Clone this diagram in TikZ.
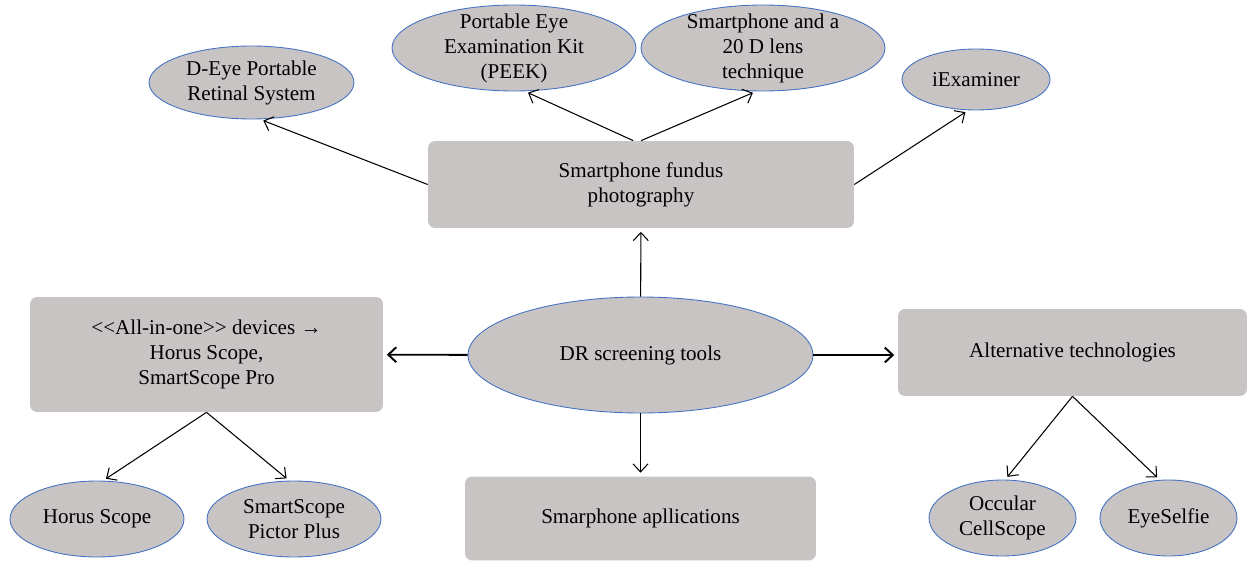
\documentclass[tikz,border=0pt]{standalone}
\usepackage{fontspec}
\setmainfont{Liberation Serif}
\usetikzlibrary{arrows.meta,shapes.geometric}

\definecolor{boxgray}{RGB}{200,196,195}
\definecolor{rimblue}{RGB}{68,114,196}

\begin{document}
\begin{tikzpicture}[x=0.02cm, y=-0.02cm, >={Straight Barb[length=1.6mm,width=3mm]}, shorten >=2pt,
    font=\fontsize{12}{14.2}\selectfont,
    tool/.style={ellipse, draw=rimblue, line width=0.5pt, fill=boxgray, inner xsep=0pt, inner ysep=-5pt, align=center},
    group/.style={rectangle, rounded corners=4pt, fill=boxgray, inner sep=0pt, align=center},
    link/.style={->, line width=0.6pt},
    mainlink/.style={->, line width=1.1pt}]
    \useasboundingbox (0,0) rectangle (1247,561);

    % Nodes {boxes}
    \node [group, minimum width=8.52cm, minimum height=1.74cm]	(fundus)	at (641,184.5)		{Smartphone fundus\\photography};
    \node [group, minimum width=7.06cm, minimum height=2.3cm]	(allinone)	at (206.5,354.5)	{{<}{<}All-in-one{>}{>} devices →\\Horus Scope,\\SmartScope Pro};
    \node [group, minimum width=6.98cm, minimum height=1.74cm]	(alt)		at (1072.5,352.5)	{Alternative technologies};
    \node [group, minimum width=7.02cm, minimum height=1.68cm]	(apps)		at (640.5,518.5)	{Smarphone apllications};

    % Nodes {ellipses}
    \node [tool, minimum width=6.9cm, minimum height=2.32cm]	(dr)		at (640.5,355)		{DR screening tools};
    \node [tool, minimum width=4.1cm, minimum height=1.46cm]	(deye)		at (251.5,82.5)		{D-Eye Portable\\Retinal System};
    \node [tool, minimum width=4.88cm, minimum height=1.72cm]	(peek)		at (514,48)			{Portable Eye\\Examination Kit\\(PEEK)};
    \node [tool, minimum width=4.88cm, minimum height=1.72cm]	(lens)		at (763,48)			{Smartphone and a\\20 D lens\\technique};
    \node [tool, minimum width=2.96cm, minimum height=1.22cm]	(iexam)		at (976,79.5)		{iExaminer};
    \node [tool, minimum width=3.48cm, minimum height=1.52cm]	(horus)		at (97,519)			{Horus Scope};
    \node [tool, minimum width=3.48cm, minimum height=1.52cm]	(pictor)	at (294,519)		{SmartScope\\Pictor Plus};
    \node [tool, minimum width=2.94cm, minimum height=1.52cm]	(cell)		at (1002.5,518)		{Occular\\CellScope};
    \node [tool, minimum width=2.74cm, minimum height=1.52cm]	(selfie)	at (1168.5,518)		{EyeSelfie};

    % Paths
    \path [link]		(dr)			edge	(fundus);
    \path [link]		(dr)			edge	(apps);
    \path [mainlink]	(dr)			edge	(allinone);
    \path [mainlink]	(dr.east)		edge	(alt.west |- dr.east);
    \path [link]		(fundus.west)	edge	(deye.-77);
    \path [link]		(fundus.100)	edge	(peek.-76);
    \path [link]		(fundus.north)	edge	(lens.-99);
    \path [link]		(fundus.east)	edge	(iexam.-104);
    \path [link]		(allinone.south)	edge	(horus.81);
    \path [link]		(allinone.south)	edge	(pictor.97);
    \path [link]		(alt.south)		edge	(cell.86);
    \path [link]		(alt.south)		edge	(selfie.103);

\end{tikzpicture}
\end{document}
